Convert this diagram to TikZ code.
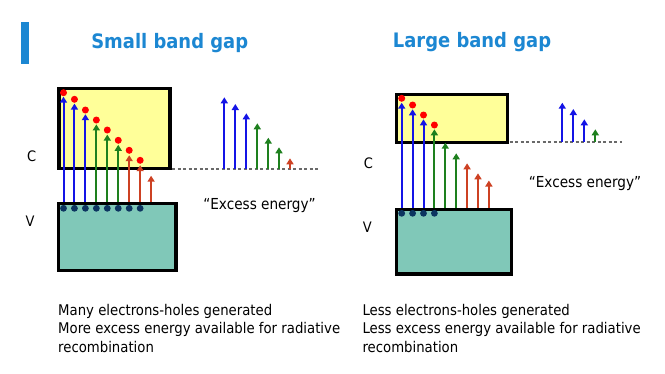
\documentclass[tikz,border=0pt]{standalone}
\usepackage{fontspec}
\setmainfont{DejaVu Sans}[FakeStretch=0.9]
\usetikzlibrary{arrows.meta}
\definecolor{titleblue}{RGB}{28,135,210}
\definecolor{cfill}{RGB}{255,255,153}
\definecolor{vfill}{RGB}{128,200,184}
\definecolor{navy}{RGB}{12,52,96}
\definecolor{dotred}{RGB}{255,0,0}
\definecolor{ab}{RGB}{20,20,230}
\definecolor{ag}{RGB}{30,128,30}
\definecolor{ar}{RGB}{205,65,35}
\definecolor{dashgray}{RGB}{105,105,105}
\tikzset{
  titletext/.style={font=\bfseries\fontsize{20}{24}\selectfont, text=titleblue, inner sep=0pt},
  bodytext/.style={font=\fontsize{14.8}{18}\selectfont, inner sep=0pt, anchor=base west},
  lbl/.style={font=\fontsize{14.5}{18}\selectfont, inner sep=0pt, anchor=base},
  extext/.style={font=\fontsize{15.2}{18}\selectfont, inner sep=0pt, anchor=base},
  cband/.style={draw=black, line width=3.4bp, fill=cfill, inner sep=0pt, anchor=north west},
  vband/.style={draw=black, line width=3.4bp, fill=vfill, inner sep=0pt, anchor=north west},
  reddot/.style={circle, fill=dotred, inner sep=0pt, minimum size=7bp},
  navydot/.style={circle, fill=navy, inner sep=0pt, minimum size=6.8bp},
  arr/.style={line width=2bp, -{Triangle[width=7bp,length=6bp]}},
  dashline/.style={dashgray, line width=1.3bp, dash pattern=on 3bp off 2.5bp}
}
\begin{document}
\begin{tikzpicture}[x=1bp,y=-1bp]
\useasboundingbox (0,0) rectangle (665,373);
% accent bar
\fill[titleblue] (20.5,22) rectangle (29,64);
% titles
\node (t1) [titletext, anchor=base] at (169.7,48.3) {Small band gap};
\node (t2) [titletext, anchor=base] at (472,47.7) {Large band gap};

% ===== Left panel =====
\node (cL) [cband, minimum width=111bp, minimum height=79.6bp] at (57.4,87) {};
\node (vL) [vband, minimum width=117.5bp, minimum height=67bp] at (56.8,201.7) {};
\node (CL) [lbl] at (31.7,161.7) {C};
\node (VL) [lbl] at (30,226.7) {V};
\coordinate (dLs) at (172,169);
\coordinate (dLend) at (318,169);
\draw[dashline] (dLs) -- (dLend);

\foreach \i/\ty/\c in {0/96.7/ab,1/103.6/ab,2/114.2/ab,3/124.4/ag,4/134.6/ag,5/144.8/ag,6/155.2/ar,7/165.2/ar,8/175.7/ar}{
  \coordinate (tL\i) at (63.5+10.95*\i,\ty);
  \draw[arr,\c] (vL.north -| tL\i) -- (tL\i);
}
\foreach \i/\dy in {0/92.7,1/99.3,2/110,3/120,4/130,5/140.3,6/150.3,7/160.3}{
  \node (rL\i) [reddot] at (63.5+10.95*\i,\dy) {};
  \node (nL\i) [navydot] at (63.5+10.95*\i,208.3) {};
}
\foreach \i/\x/\ty/\c in {0/224.3/97.3/ab,1/235.3/104/ab,2/246.3/113.3/ab,3/257.3/123.3/ag,4/268.3/137.7/ag,5/279/147.3/ag,6/290/158.3/ar}{
  \coordinate (xL\i) at (\x,\ty);
  \draw[arr,\c] (dLend -| xL\i) -- (xL\i);
}
\node (eL) [extext] at (259.5,209.3) {“Excess energy”};

% ===== Right panel =====
\node (cR) [cband, minimum width=110.9bp, minimum height=47.8bp] at (395,92.7) {};
\node (vR) [vband, minimum width=114.6bp, minimum height=64.5bp] at (395,207.7) {};
\node (CR) [lbl] at (368.3,168.3) {C};
\node (VR) [lbl] at (367.3,232) {V};
\coordinate (dRs) at (509.5,142);
\coordinate (dRend) at (621.7,142);
\draw[dashline] (dRs) -- (dRend);

\foreach \i/\ty/\c in {0/102.7/ab,1/109.3/ab,2/119.3/ab,3/129.3/ag,4/142.7/ag,5/153.3/ag,6/163.3/ar,7/173.3/ar,8/180.5/ar}{
  \coordinate (tR\i) at (401.7+10.9*\i,\ty);
  \draw[arr,\c] (vR.north -| tR\i) -- (tR\i);
}
\foreach \i/\dy in {0/98.3,1/105,2/115,3/125}{
  \node (rR\i) [reddot] at (401.7+10.9*\i,\dy) {};
  \node (nR\i) [navydot] at (401.7+10.9*\i,213.3) {};
}
\foreach \i/\x/\ty/\c in {0/562.3/102.7/ab,1/573.3/109/ab,2/584.3/119.3/ab,3/595.3/129.3/ag}{
  \coordinate (xR\i) at (\x,\ty);
  \draw[arr,\c] (dRend -| xR\i) -- (xR\i);
}
\node (eR) [extext] at (585,187.3) {“Excess energy”};

% ===== Bottom texts =====
\node (bL1) [bodytext] at (58,315) {Many electrons-holes generated};
\node (bL2) [bodytext] at (58,333.5) {More excess energy available for radiative};
\node (bL3) [bodytext] at (58,352) {recombination};
\node (bR1) [bodytext] at (362.3,315) {Less electrons-holes generated};
\node (bR2) [bodytext] at (362.3,333.5) {Less excess energy available for radiative};
\node (bR3) [bodytext] at (362.3,352) {recombination};
\end{tikzpicture}
\end{document}
